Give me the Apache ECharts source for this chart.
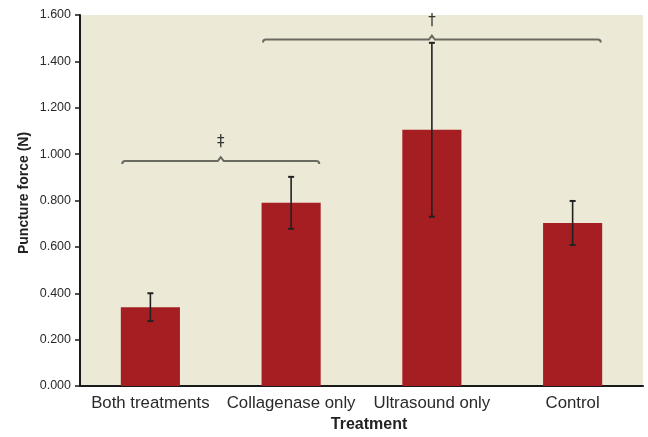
<!DOCTYPE html>
<html>
<head>
<meta charset="utf-8">
<style>
  html, body { margin: 0; padding: 0; background: #ffffff; }
  #chart { width: 648px; height: 437px; }
</style>
<script src="https://cdn.jsdelivr.net/npm/echarts@6/dist/echarts.min.js"></script>
</head>
<body>
<div id="chart"></div>
<script>
// Puncture force by treatment group, mean with error bars
const categories = ['Both treatments', 'Collagenase only', 'Ultrasound only', 'Control'];
const meanForce = [0.340, 0.790, 1.105, 0.703];
const errForce = [0.060, 0.112, 0.375, 0.095];
const yTicks = { min: 0, max: 1.6, interval: 0.2 };

// Significance brackets between groups
const compFrom = [0, 1];
const compTo = [1, 3];
const compLevel = [0.970, 1.494];
const compMark = ['\u2021', '\u2020'];

const errorData = meanForce.map((m, i) => [i, m - errForce[i], m + errForce[i]]);
const braceData = compFrom.map((f, i) => [f, compTo[i], compLevel[i], i]);

const chart = echarts.init(document.getElementById('chart'), null, { renderer: 'canvas' });

const axisFont = "'Liberation Sans', Arial, sans-serif";

chart.setOption({
  animation: false,
  backgroundColor: '#ffffff',
  grid: {
    left: 80, right: 5, top: 15, bottom: 51,
    show: true, backgroundColor: '#ECE9D6', borderWidth: 0
  },
  xAxis: {
    type: 'category',
    data: categories,
    axisLine: { show: true, lineStyle: { color: '#1a1a1a', width: 2 } },
    axisTick: { show: false },
    axisLabel: { interval: 0, color: '#2a2a2a', fontFamily: axisFont, fontSize: 16.8, margin: 9 }
  },
  yAxis: {
    type: 'value',
    min: yTicks.min, max: yTicks.max, interval: yTicks.interval,
    splitLine: { show: false },
    axisLine: { show: true, lineStyle: { color: '#1a1a1a', width: 2 } },
    axisTick: { show: true, length: 5, lineStyle: { color: '#1a1a1a', width: 1.5 } },
    axisLabel: {
      color: '#2a2a2a', fontFamily: axisFont, fontSize: 12.5, margin: 9,
      formatter: v => v.toFixed(3)
    }
  },
  graphic: [
    {
      type: 'text',
      style: {
        text: 'Treatment', x: 369, y: 425, textAlign: 'center', textVerticalAlign: 'middle',
        font: "bold 16px 'Liberation Sans', Arial, sans-serif", fill: '#222'
      }
    },
    {
      type: 'text', x: 24, y: 193, rotation: Math.PI / 2,
      style: {
        text: 'Puncture force (N)', textAlign: 'center', textVerticalAlign: 'middle',
        font: "bold 14px 'Liberation Sans', Arial, sans-serif", fill: '#222'
      }
    }
  ],
  series: [
    {
      type: 'bar',
      data: meanForce,
      barWidth: '42%',
      itemStyle: { color: '#A51E22' }
    },
    {
      type: 'custom',
      data: errorData,
      z: 5,
      renderItem: function (params, api) {
        const x = api.value(0);
        const lo = api.coord([x, api.value(1)]);
        const hi = api.coord([x, api.value(2)]);
        const cap = 3;
        const st = { stroke: '#222', lineWidth: 1.6 };
        return {
          type: 'group',
          children: [
            { type: 'line', shape: { x1: hi[0], y1: hi[1], x2: lo[0], y2: lo[1] }, style: st },
            { type: 'line', shape: { x1: hi[0] - cap, y1: hi[1], x2: hi[0] + cap, y2: hi[1] }, style: { stroke: '#222', lineWidth: 2 } },
            { type: 'line', shape: { x1: lo[0] - cap, y1: lo[1], x2: lo[0] + cap, y2: lo[1] }, style: { stroke: '#222', lineWidth: 2 } }
          ]
        };
      }
    },
    {
      type: 'custom',
      data: braceData,
      z: 6,
      clip: false,
      renderItem: function (params, api) {
        const level = api.value(2);
        const p0 = api.coord([api.value(0), level]);
        const p1 = api.coord([api.value(1), level]);
        const band = api.size([1, 0])[0];
        const pad = band * 0.2;
        const x0 = p0[0] - pad;
        const x1 = p1[0] + pad;
        const y = p0[1];
        const xm = (x0 + x1) / 2;
        const path = 'M' + x0 + ',' + (y + 3) +
          ' Q' + x0 + ',' + y + ' ' + (x0 + 3) + ',' + y +
          ' L' + (xm - 3) + ',' + y +
          ' L' + xm + ',' + (y - 4) +
          ' L' + (xm + 3) + ',' + y +
          ' L' + (x1 - 3) + ',' + y +
          ' Q' + x1 + ',' + y + ' ' + x1 + ',' + (y + 3);
        return {
          type: 'group',
          children: [
            {
              type: 'path',
              shape: { pathData: path },
              style: { stroke: '#6b6a60', lineWidth: 2, fill: null }
            },
            {
              type: 'text',
              style: {
                text: compMark[api.value(3)], x: xm, y: y - 11,
                textAlign: 'center', textVerticalAlign: 'bottom',
                font: "15px 'DejaVu Sans', sans-serif", fill: '#333'
              }
            }
          ]
        };
      }
    }
  ]
});
</script>
</body>
</html>
